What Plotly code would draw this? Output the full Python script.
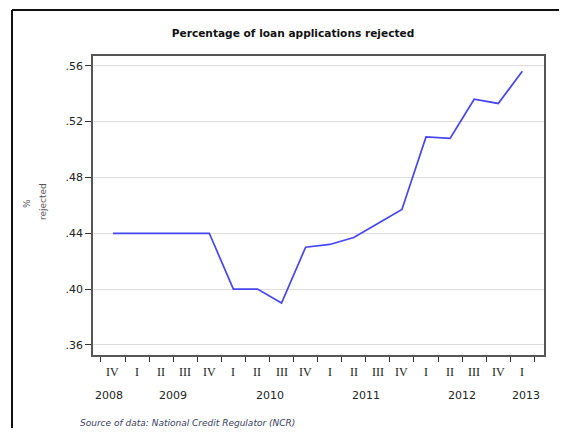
import plotly.graph_objects as go

# ---- data ----
quarters = ["IV", "I", "II", "III", "IV", "I", "II", "III", "IV",
            "I", "II", "III", "IV", "I", "II", "III", "IV", "I"]
rejected = [0.44, 0.44, 0.44, 0.44, 0.44, 0.40, 0.40, 0.39, 0.430,
            0.432, 0.437, 0.447, 0.457, 0.509, 0.508, 0.536, 0.533, 0.556]
years = ["2008", "2009", "2010", "2011", "2012", "2013"]
year_pos = [-0.15, 2.5, 6.5, 10.5, 14.5, 17.15]
y_ticks = [0.36, 0.40, 0.44, 0.48, 0.52, 0.56]
y_ticktext = [".36", ".40", ".44", ".48", ".52", ".56"]

x = list(range(len(rejected)))
boundaries = [i - 0.5 for i in range(len(rejected) + 1)]
year_bounds = [0.5, 4.5, 8.5, 12.5, 16.5]

# page layout (browser body has an 8px margin, compensate for it and avoid overflow)
OFF = 8
PW, PH = 567, 436
W, H = PW - 2 * OFF, PH - 2 * OFF
L, R, T, B = 93 - OFF, 544 - OFF, 56 - OFF, 355 - OFF


def px(xpage):
    return (xpage - OFF - L) / (R - L)


def py(ypage):
    return (B - (ypage - OFF)) / (B - T)


fig = go.Figure()
fig.add_trace(go.Scatter(x=x, y=rejected, mode="lines",
                         line=dict(color="#4646f0", width=1.7),
                         hoverinfo="skip", showlegend=False))

annotations = []
for xi, q in zip(x, quarters):
    annotations.append(dict(x=xi, y=py(372), xref="x", yref="paper", text=q,
                            showarrow=False, yanchor="middle",
                            font=dict(family="Liberation Serif", size=12, color="#222")))
for xp, yr in zip(year_pos, years):
    annotations.append(dict(x=xp, y=py(395), xref="x", yref="paper", text=yr,
                            showarrow=False, yanchor="middle",
                            font=dict(family="DejaVu Sans", size=11, color="#222")))
annotations.append(dict(x=px(78), y=py(423), xref="paper", yref="paper",
                        text="<i>Source of data: National Credit Regulator (NCR)</i>",
                        showarrow=False, xanchor="left", yanchor="middle",
                        font=dict(family="DejaVu Sans", size=9, color="#3a4060")))
annotations.append(dict(x=px(27), y=py(204), xref="paper", yref="paper",
                        text="%", textangle=-90, showarrow=False,
                        xanchor="center", yanchor="middle",
                        font=dict(family="DejaVu Sans", size=9, color="#555")))
annotations.append(dict(x=px(43), y=py(202), xref="paper", yref="paper",
                        text="rejected", textangle=-90, showarrow=False,
                        xanchor="center", yanchor="middle",
                        font=dict(family="DejaVu Sans", size=9, color="#555")))

# frame lines kept strictly inside the figure's own area
x_right_edge = (W - L) / (R - L)
y_bottom_edge = -(H - B) / (B - T)
shapes = [
    dict(type="line", xref="paper", yref="paper",
         x0=px(12), x1=x_right_edge, y0=py(10), y1=py(10),
         line=dict(color="#111", width=2), layer="below"),
    dict(type="line", xref="paper", yref="paper",
         x0=px(12), x1=px(12), y0=py(10), y1=y_bottom_edge,
         line=dict(color="#111", width=2), layer="below"),
]

fig.update_layout(
    width=W, height=H,
    margin=dict(l=L, r=W - R, t=T, b=H - B),
    paper_bgcolor="white", plot_bgcolor="white",
    title=dict(text="<b>Percentage of loan applications rejected</b>",
               x=(293 - OFF) / W, xanchor="center", y=1 - (33 - OFF) / H,
               yanchor="middle",
               font=dict(family="DejaVu Sans", size=10.6, color="#111")),
    xaxis=dict(range=[-0.83, 17.9], showgrid=False, zeroline=False,
               tickvals=year_bounds, ticktext=["" for _ in year_bounds],
               ticks="outside", ticklen=8, tickcolor="#333", tickwidth=1,
               minor=dict(tickvals=boundaries, ticks="outside", ticklen=5,
                          tickcolor="#333", tickwidth=1),
               showline=True, linecolor="#555", linewidth=1.5, mirror=True),
    yaxis=dict(range=[0.3528, 0.567], tickvals=y_ticks, ticktext=y_ticktext,
               ticks="outside", ticklen=6, tickcolor="#333",
               showgrid=True, gridcolor="#dddddd", gridwidth=1, zeroline=False,
               showline=True, linecolor="#555", linewidth=1.5, mirror=True,
               tickfont=dict(family="DejaVu Sans", size=11, color="#222")),
    annotations=annotations,
    shapes=shapes,
)

fig.write_html("out.html")
